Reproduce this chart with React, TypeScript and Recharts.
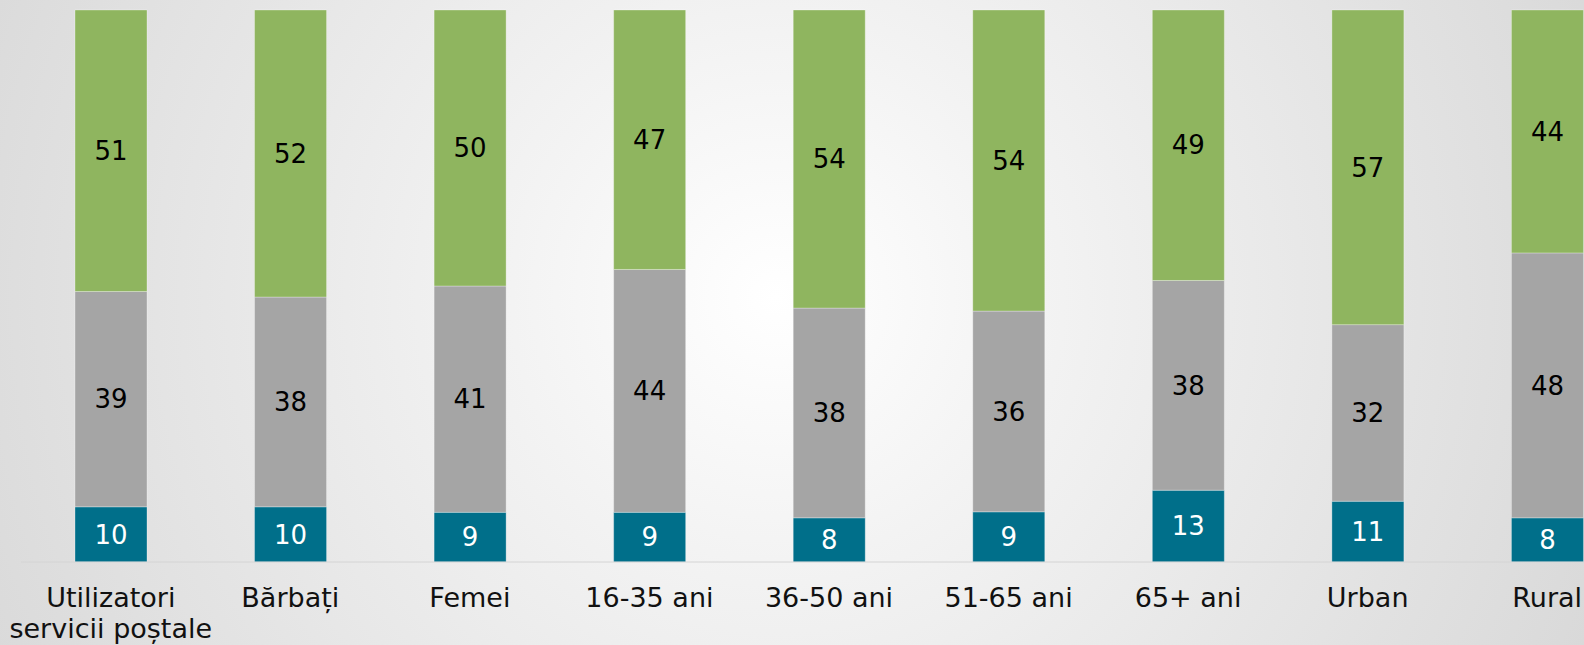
import { BarChart, Bar, XAxis, YAxis, LabelList } from "recharts";

const categories = [
  "Utilizatori\nservicii poștale",
  "Bărbați",
  "Femei",
  "16-35 ani",
  "36-50 ani",
  "51-65 ani",
  "65+ ani",
  "Urban",
  "Rural",
];
const blueValues = [10, 10, 9, 9, 8, 9, 13, 11, 8];
const grayValues = [39, 38, 41, 44, 38, 36, 38, 32, 48];
const greenValues = [51, 52, 50, 47, 54, 54, 49, 57, 44];

const data = categories.map((name, i) => ({
  name,
  blue: blueValues[i],
  gray: grayValues[i],
  green: greenValues[i],
}));

const FONT = "'DejaVu Sans', Verdana, sans-serif";

const CategoryTick = (props: any) => {
  const { x, y, payload } = props;
  const lines = String(payload.value).split("\n");
  return (
    <text
      x={x}
      y={y}
      textAnchor="middle"
      fill="#111"
      fontSize={27}
      fontFamily={FONT}
    >
      {lines.map((line, i) => (
        <tspan key={i} x={x} dy={i === 0 ? 45 : 31}>
          {line}
        </tspan>
      ))}
    </text>
  );
};

export default function App() {
  return (
    <div
      style={{
        position: "absolute",
        left: 0,
        top: 0,
        width: 1584,
        height: 645,
        overflow: "hidden",
        background:
          "radial-gradient(circle farthest-corner at 49% 46%, #ffffff 0%, #f3f3f3 30%, #d9d9d9 100%)",
      }}
    >
      <BarChart
        width={1637}
        height={645}
        data={data}
        stackOffset="expand"
        margin={{ top: 10, right: 0, left: 21, bottom: 0 }}
        barSize={72}
      >
        <XAxis
          dataKey="name"
          interval={0}
          tickLine={false}
          tickSize={0}
          tickMargin={0}
          axisLine={{ stroke: "#d4d4d4" }}
          height={83}
          tick={<CategoryTick />}
        />
        <YAxis hide domain={[0, 1]} />
        <Bar
          dataKey="blue"
          stackId="a"
          fill="#006F8A"
          stroke="rgba(255,255,255,0.3)"
          isAnimationActive={false}
        >
          <LabelList
            dataKey="blue"
            position="center"
            fill="#ffffff"
            fontSize={26}
            fontFamily={FONT}
          />
        </Bar>
        <Bar
          dataKey="gray"
          stackId="a"
          fill="#A5A5A5"
          stroke="rgba(255,255,255,0.3)"
          isAnimationActive={false}
        >
          <LabelList
            dataKey="gray"
            position="center"
            fill="#000000"
            fontSize={26}
            fontFamily={FONT}
          />
        </Bar>
        <Bar
          dataKey="green"
          stackId="a"
          fill="#8FB55F"
          stroke="rgba(255,255,255,0.3)"
          isAnimationActive={false}
        >
          <LabelList
            dataKey="green"
            position="center"
            fill="#000000"
            fontSize={26}
            fontFamily={FONT}
          />
        </Bar>
      </BarChart>
    </div>
  );
}
